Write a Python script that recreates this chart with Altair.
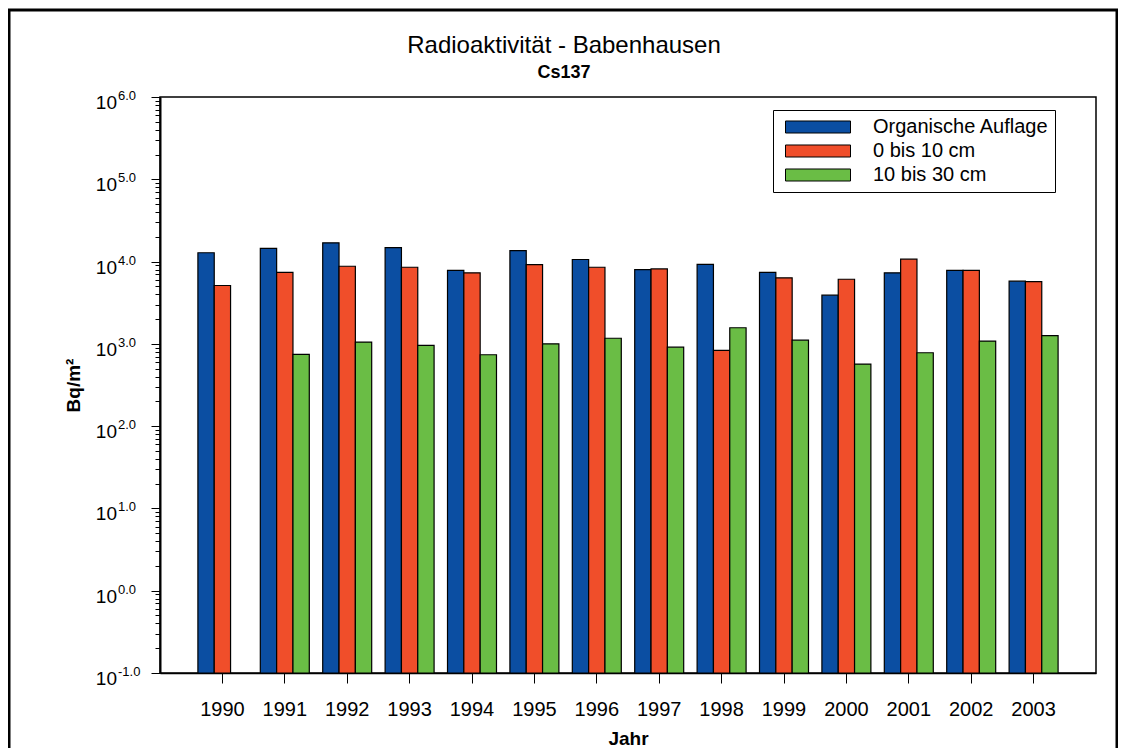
import altair as alt
import pandas as pd

years = [1990, 1991, 1992, 1993, 1994, 1995, 1996, 1997, 1998, 1999, 2000, 2001, 2002, 2003]
series = ["Organische Auflage", "0 bis 10 cm", "10 bis 30 cm"]
organische = [12800, 14500, 16900, 14800, 7830, 13600, 10600, 8000, 9270, 7410, 3900, 7300, 7830, 5770]
cm0_10 = [5120, 7410, 8770, 8530, 7300, 9200, 8530, 8150, 832, 6340, 6100, 10700, 7830, 5710]
cm10_30 = [None, 743, 1050, 957, 737, 1000, 1170, 912, 1570, 1110, 568, 780, 1080, 1260]
colors = ["#0B4EA2", "#F04E2A", "#6ABD45"]
y_min, y_max = 0.1, 1e6

exponents = [-1, 0, 1, 2, 3, 4, 5, 6]
exp_labels = ["-1.0", "0.0", "1.0", "2.0", "3.0", "4.0", "5.0", "6.0"]

FONT = "Liberation Sans"

rows = []
for s, vals in zip(series, [organische, cm0_10, cm10_30]):
    for y, v in zip(years, vals):
        if v is not None:
            rows.append({"Jahr": y, "Serie": s, "Wert": v, "Basis": y_min})
df = pd.DataFrame(rows)

tick_vals = []
for e in exponents[:-1]:
    for m in range(1, 10):
        tick_vals.append(m * 10.0 ** e)
tick_vals.append(10.0 ** exponents[-1])

yscale = alt.Scale(type="log", domain=[y_min, y_max], nice=False)

bars = alt.Chart(df).mark_bar(stroke="black", strokeWidth=1.2).encode(
    x=alt.X(
        "Jahr:O",
        scale=alt.Scale(paddingInner=0.215, paddingOuter=0.6075),
        axis=alt.Axis(
            title="Jahr", titleFontSize=19, titleFontWeight="bold", titleFont=FONT,
            titleColor="black", titlePadding=10,
            labelAngle=0, labelFontSize=20, labelFont=FONT, labelColor="black",
            labelPadding=16, tickSize=10, tickColor="black", tickWidth=1,
            domainColor="black", domainWidth=1.5, grid=False,
        ),
    ),
    xOffset=alt.XOffset("Serie:N", sort=series, scale=alt.Scale(domain=series, paddingInner=0, paddingOuter=0)),
    y=alt.Y(
        "Wert:Q",
        scale=yscale, stack=None,
        axis=alt.Axis(
            values=tick_vals, labels=False, grid=False,
            tickSize={"condition": {"test": "abs(log(datum.value)/LN10 - round(log(datum.value)/LN10)) < 0.001", "value": 9}, "value": 5},
            tickColor="black", tickWidth=1, domainColor="black", domainWidth=2,
            title="Bq/m²", titleFontSize=19, titleFontWeight="bold", titleFont=FONT,
            titleColor="black", titleX=-87, titleY=288, titleAngle=-90, titleAlign="center",
            titleBaseline="middle",
        ),
    ),
    y2=alt.Y2("Basis:Q"),
    color=alt.Color(
        "Serie:N", sort=series,
        scale=alt.Scale(domain=series, range=colors),
        legend=alt.Legend(
            orient="none", legendX=613, legendY=13, title=None,
            padding=6, strokeColor="black", fillColor="white",
            labelFontSize=20, labelFont=FONT, labelColor="black", labelLimit=400,
            symbolType="M-1,-0.185H1V0.185H-1Z", symbolSize=4225,
            symbolStrokeColor="black", symbolStrokeWidth=1, symbolOpacity=1,
            symbolOffset=6, labelOffset=22, clipHeight=22, rowPadding=2,
            cornerRadius=0,
        ),
    ),
)

lab_df = pd.DataFrame({"Wert": [10.0 ** e for e in exponents], "Exp": exp_labels})

base10 = alt.Chart(lab_df).mark_text(
    text="10", align="right", baseline="middle", fontSize=19, font=FONT, color="black", dy=6
).encode(x=alt.value(-43), y=alt.Y("Wert:Q"))

sup = alt.Chart(lab_df).mark_text(
    align="left", baseline="middle", fontSize=13, font=FONT, color="black", dy=-1
).encode(x=alt.value(-42), y=alt.Y("Wert:Q"), text="Exp:N")

titles_df = pd.DataFrame({"t": ["Radioaktivität - Babenhausen"], "s": ["Cs137"]})
title_main = alt.Chart(titles_df).mark_text(
    align="center", baseline="alphabetic", fontSize=24, font=FONT, color="black"
).encode(x=alt.value(404), y=alt.value(-44), text="t:N")
title_sub = alt.Chart(titles_df).mark_text(
    align="center", baseline="alphabetic", fontSize=18, fontWeight="bold", font=FONT, color="black"
).encode(x=alt.value(404), y=alt.value(-19), text="s:N")

frame = alt.Chart(pd.DataFrame({"f": [0]})).mark_rect(
    fillOpacity=0, stroke="black", strokeWidth=3
).encode(x=alt.value(-151), x2=alt.value(957), y=alt.value(-87), y2=alt.value(700))

chart = alt.layer(bars, base10, sup, title_main, title_sub, frame).properties(
    width=936, height=576,
    padding={"left": 152, "top": 89, "right": 22, "bottom": 75},
    autosize=alt.AutoSizeParams(type="none"),
    view=alt.ViewBackground(stroke="black", strokeWidth=1.5, strokeOpacity=1),
).configure_view(stroke="black", strokeWidth=1.5).configure(background="white")

chart.save("out.html", embed_options={"renderer": "svg", "actions": False})
